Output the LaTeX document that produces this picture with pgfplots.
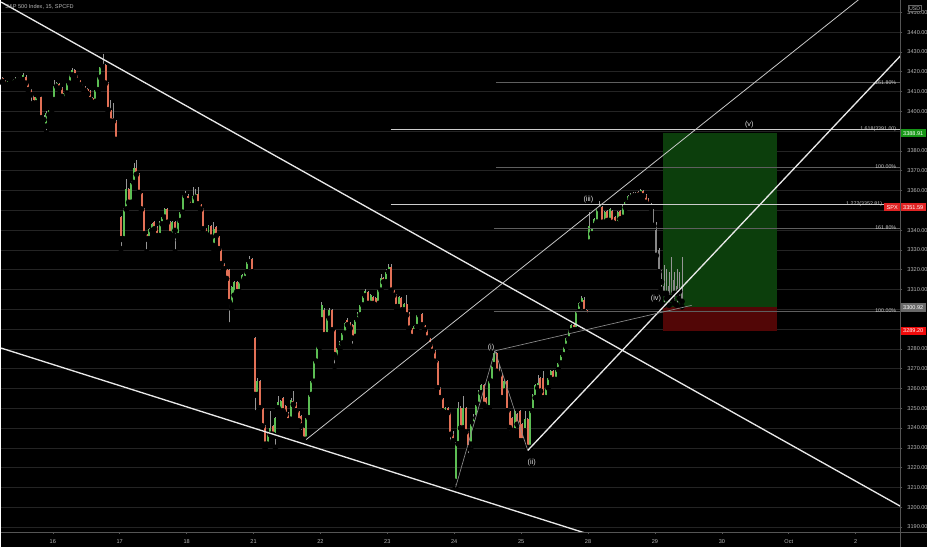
\documentclass[border=0pt]{standalone}
\usepackage{pgfplots}
\usepackage{pgfplotstable}
\pgfplotsset{compat=1.18}
\usepackage{fontspec}
\setmainfont{Liberation Sans}
\definecolor{upc}{RGB}{92,190,84}
\definecolor{dnc}{RGB}{226,112,86}
\definecolor{gyc}{RGB}{135,135,135}
\definecolor{wickc}{RGB}{150,150,150}
\definecolor{gridc}{RGB}{36,36,36}
\definecolor{axc}{RGB}{85,85,85}
\definecolor{lbl}{RGB}{185,185,185}
\definecolor{linew}{RGB}{232,232,232}
\definecolor{linec}{RGB}{200,200,200}
\definecolor{fibw}{RGB}{205,205,205}
\definecolor{fibg}{RGB}{95,95,95}
\definecolor{ewc}{RGB}{140,140,140}
\definecolor{boxg}{RGB}{12,62,12}
\definecolor{boxr}{RGB}{82,6,6}
\definecolor{tagg}{RGB}{22,150,22}
\definecolor{tagr}{RGB}{225,35,35}
\definecolor{tagr2}{RGB}{240,10,10}
\definecolor{tagy}{RGB}{105,105,105}
\definecolor{elc}{RGB}{225,225,225}

\pgfplotstableread{
t o h l c g
6 3416.7 3417.5 3414.5 3415.1 0
7 3415.1 3416.0 3412.8 3413.4 0
8 3413.4 3415.5 3412.5 3415.1 0
9 3414.6 3416.0 3413.8 3415.0 0
10 3414.2 3416.5 3413.5 3415.9 0
11 3415.1 3417.5 3414.5 3416.7 0
12 3415.9 3417.5 3415.0 3416.7 0
13 3416.7 3417.5 3415.5 3415.9 0
14 3416.0 3419.2 3415.5 3418.4 0
15 3417.6 3418.5 3414.0 3414.2 0
16 3414.2 3414.5 3410.5 3410.9 0
17 3410.9 3411.5 3403.3 3408.4 0
18 3407.5 3408.5 3403.5 3404.2 0
19 3404.2 3408.0 3403.8 3407.5 0
20 3407.5 3408.8 3406.5 3408.4 0
21 3407.5 3408.0 3396.0 3396.7 0
22 3396.7 3398.0 3395.0 3395.8 0
23 3392.5 3400.0 3389.1 3399.2 0
24 3398.3 3401.5 3397.5 3400.8 0
25 3400.8 3401.5 3400.3 3401.0 0
26 3405.9 3415.9 3405.0 3412.6 0
27 3412.6 3414.8 3411.8 3414.2 0
28 3413.9 3414.5 3411.2 3411.7 0
29 3411.7 3412.2 3407.0 3407.5 0
30 3405.9 3409.8 3405.3 3409.2 0
31 3409.2 3414.8 3408.8 3414.2 0
32 3414.2 3418.9 3413.8 3418.4 0
33 3418.4 3421.8 3418.0 3420.9 0
34 3420.9 3421.3 3417.5 3417.9 0
35 3417.9 3418.3 3415.2 3415.6 0
36 3415.6 3416.0 3413.0 3413.4 0
37 3413.4 3413.8 3411.3 3411.7 0
38 3412.2 3412.8 3410.0 3410.5 0
39 3411.2 3411.8 3408.5 3408.9 0
40 3410.5 3411.0 3405.5 3405.9 0
41 3406.7 3407.2 3402.5 3404.5 0
42 3405.0 3411.5 3404.6 3410.9 0
43 3410.9 3417.8 3410.5 3417.2 0
44 3417.2 3423.0 3416.8 3422.6 0
45 3422.6 3428.9 3422.0 3423.9 0
46 3423.4 3424.0 3413.8 3414.2 0
47 3414.2 3414.8 3400.3 3400.8 0
48 3400.8 3405.9 3394.6 3395.0 0
49 3396.7 3404.2 3394.8 3395.0 0
50 3395.0 3395.5 3385.3 3385.8 0
51 3385.8 3386.2 3385.0 3385.5 0
52 3346.5 3347.3 3330.6 3335.6 0
53 3335.6 3351.2 3335.0 3350.6 0
54 3350.6 3365.7 3350.0 3360.7 0
55 3360.7 3361.3 3353.5 3354.0 0
56 3354.0 3364.6 3353.5 3364.0 0
57 3364.0 3374.1 3363.5 3371.6 0
58 3371.6 3375.2 3367.7 3368.2 0
59 3368.2 3368.7 3358.5 3359.0 0
60 3359.0 3359.5 3350.0 3350.6 0
61 3350.6 3351.0 3337.6 3338.1 0
62 3338.1 3338.6 3328.9 3335.6 0
63 3335.6 3341.2 3335.0 3340.6 0
64 3339.8 3343.7 3339.3 3343.1 0
65 3343.9 3344.4 3340.0 3340.6 0
66 3341.5 3342.0 3336.7 3337.2 0
67 3337.2 3344.5 3336.8 3343.9 0
68 3343.1 3347.0 3342.6 3346.5 0
69 3346.5 3351.2 3346.0 3350.6 0
70 3350.6 3351.1 3343.4 3343.9 0
71 3343.9 3344.4 3337.6 3338.1 0
72 3337.2 3344.5 3334.7 3343.9 0
73 3343.9 3344.4 3328.9 3339.8 0
74 3337.2 3345.3 3336.8 3344.8 0
75 3344.8 3349.6 3344.3 3349.0 0
76 3349.0 3357.8 3348.5 3357.3 0
77 3357.3 3359.8 3356.8 3358.2 0
78 3357.3 3358.0 3354.3 3354.8 0
79 3354.8 3355.3 3351.8 3352.3 0
80 3352.3 3362.0 3351.8 3357.3 0
81 3356.5 3360.7 3356.0 3358.2 0
82 3358.2 3362.0 3352.7 3353.2 0
83 3353.2 3353.7 3350.1 3350.6 0
84 3350.6 3351.1 3340.1 3340.6 0
85 3340.6 3341.1 3334.7 3338.1 0
86 3337.2 3342.8 3336.7 3342.3 0
87 3342.3 3342.8 3335.9 3336.4 0
88 3332.2 3344.3 3330.6 3340.6 0
89 3341.5 3342.0 3336.7 3337.2 0
90 3337.2 3337.7 3330.1 3330.6 0
91 3330.6 3331.1 3322.5 3323.0 0
92 3323.0 3323.5 3320.0 3320.5 0
93 3320.5 3321.0 3315.0 3315.5 0
94 3319.7 3320.2 3292.1 3303.8 0
95 3302.1 3311.8 3300.4 3311.3 0
96 3307.1 3314.3 3306.6 3313.8 0
97 3313.8 3314.3 3308.3 3308.8 0
98 3308.8 3314.3 3308.3 3313.8 0
99 3313.8 3317.7 3313.3 3317.2 0
100 3315.5 3319.4 3315.0 3318.9 0
101 3318.9 3324.4 3318.4 3323.9 0
102 3323.9 3326.9 3323.4 3324.7 0
103 3325.5 3326.0 3318.4 3318.9 0
104 3285.4 3286.0 3247.7 3256.9 0
105 3256.9 3265.3 3256.4 3263.6 0
106 3263.6 3264.1 3249.7 3250.2 0
107 3250.2 3250.7 3240.5 3241.0 0
108 3241.0 3241.5 3229.3 3231.8 0
109 3231.8 3237.3 3231.3 3236.8 0
110 3236.8 3248.6 3236.3 3240.2 0
111 3241.0 3241.5 3236.3 3236.8 0
112 3236.0 3245.7 3230.2 3245.2 0
113 3250.2 3256.1 3249.7 3253.2 0
114 3248.6 3254.1 3248.1 3253.6 0
115 3255.3 3255.8 3248.1 3248.6 0
116 3251.1 3251.6 3246.4 3246.9 0
117 3247.7 3248.2 3243.1 3243.6 0
118 3244.4 3255.0 3243.9 3254.4 0
119 3253.6 3258.6 3251.4 3251.9 0
120 3252.8 3253.3 3248.1 3248.6 0
121 3248.6 3249.1 3243.1 3243.6 0
122 3246.1 3246.6 3237.7 3241.0 0
123 3240.2 3240.7 3234.3 3234.3 0
124 3234.3 3245.7 3233.5 3245.2 0
125 3245.2 3257.4 3244.7 3256.9 0
126 3256.9 3264.1 3256.4 3263.6 0
127 3263.6 3274.2 3263.1 3273.7 0
128 3273.7 3281.7 3273.2 3281.2 0
129 3281.2 3282.0 3280.3 3281.6 0
130 3294.6 3303.8 3293.7 3302.1 0
131 3299.6 3300.5 3286.6 3287.1 0
132 3287.1 3295.9 3286.6 3295.4 0
133 3295.4 3300.5 3295.0 3299.6 0
134 3299.6 3300.0 3289.1 3289.6 0
135 3289.6 3290.1 3271.2 3277.0 0
136 3275.3 3280.9 3274.8 3280.4 0
137 3280.4 3284.2 3279.9 3283.7 0
138 3282.9 3288.4 3282.4 3287.9 0
139 3287.9 3293.4 3287.4 3292.9 0
140 3294.6 3295.4 3291.6 3292.1 0
141 3292.9 3293.4 3289.9 3290.4 0
142 3292.1 3292.6 3281.2 3285.4 0
143 3286.2 3295.1 3285.7 3294.6 0
144 3294.6 3298.4 3294.1 3297.9 0
145 3297.1 3302.6 3296.6 3302.1 0
146 3302.1 3307.3 3301.6 3306.8 0
147 3306.8 3310.1 3306.3 3309.1 0
148 3308.8 3309.3 3302.4 3302.9 0
149 3302.9 3307.6 3302.4 3307.1 0
150 3306.3 3306.8 3302.4 3302.9 0
151 3305.5 3306.0 3301.6 3302.1 0
152 3302.9 3310.1 3302.4 3309.6 0
153 3309.6 3318.0 3309.1 3315.8 0
154 3315.8 3316.3 3313.3 3313.8 0
155 3313.8 3320.5 3313.3 3318.9 0
156 3318.9 3323.0 3318.4 3321.4 0
157 3321.4 3323.0 3309.1 3309.6 0
158 3309.6 3310.1 3306.6 3307.1 0
159 3307.1 3307.6 3300.8 3301.3 0
160 3301.3 3306.8 3300.8 3306.3 0
161 3305.5 3306.0 3299.1 3299.6 0
162 3299.6 3303.4 3299.1 3302.9 0
163 3302.9 3307.1 3296.6 3297.1 0
164 3297.9 3298.4 3289.9 3290.4 0
165 3290.4 3290.9 3285.7 3286.2 0
166 3288.7 3292.2 3286.0 3291.7 0
167 3291.2 3297.6 3290.7 3297.1 0
168 3297.1 3298.8 3296.6 3297.9 0
169 3297.6 3298.1 3291.6 3292.1 0
170 3292.1 3292.6 3289.1 3289.6 0
171 3289.6 3290.1 3284.9 3285.4 0
172 3285.4 3285.9 3281.5 3282.0 0
173 3282.0 3282.5 3278.2 3278.7 0
174 3278.7 3279.2 3273.2 3273.7 0
175 3273.7 3274.2 3259.8 3260.3 0
176 3260.3 3260.8 3254.8 3255.3 0
177 3255.3 3255.8 3248.1 3248.6 0
178 3247.7 3250.7 3245.2 3250.2 0
179 3250.2 3250.7 3247.2 3247.7 0
180 3247.7 3248.2 3231.8 3236.8 0
181 3236.8 3238.5 3231.3 3233.5 0
182 3213.0 3233.0 3210.0 3232.0 0
183 3232.0 3253.0 3231.5 3250.0 0
184 3250.0 3251.0 3239.0 3240.0 0
185 3240.0 3256.0 3239.5 3250.0 0
186 3250.0 3250.5 3237.5 3238.0 0
187 3238.0 3238.5 3226.0 3230.0 0
188 3231.8 3242.4 3229.0 3241.9 0
189 3241.9 3247.0 3241.0 3245.2 0
190 3245.2 3252.4 3244.7 3251.9 0
191 3251.9 3259.1 3251.4 3258.6 0
192 3257.8 3262.5 3257.3 3262.0 0
193 3262.0 3262.5 3251.4 3251.9 0
194 3255.3 3255.8 3249.7 3250.2 0
195 3250.2 3264.1 3249.7 3263.6 0
196 3263.6 3272.5 3263.1 3272.0 0
197 3272.0 3279.0 3271.5 3277.9 0
198 3277.9 3278.4 3268.1 3268.6 0
199 3269.5 3272.0 3266.5 3267.0 0
200 3267.0 3267.5 3254.8 3255.3 0
201 3258.6 3264.1 3258.1 3263.6 0
202 3263.6 3264.1 3248.1 3248.6 0
203 3248.6 3249.1 3237.0 3240.2 0
204 3245.2 3245.7 3238.0 3238.5 0
205 3238.5 3249.1 3238.0 3248.6 0
206 3246.9 3247.4 3241.4 3241.9 0
207 3248.6 3249.1 3233.0 3233.5 0
208 3241.9 3242.4 3233.0 3233.5 0
209 3238.5 3248.6 3238.0 3244.4 0
210 3244.4 3244.9 3228.5 3230.2 0
211 3230.2 3249.1 3229.7 3248.6 0
212 3248.6 3257.4 3248.1 3256.9 0
213 3255.3 3262.5 3254.8 3262.0 0
214 3260.3 3267.0 3259.8 3262.8 0
215 3265.3 3265.8 3258.1 3258.6 0
216 3265.3 3268.6 3254.8 3255.3 0
217 3255.3 3260.8 3254.4 3260.3 0
218 3260.3 3265.8 3259.8 3265.3 0
219 3265.3 3269.1 3264.8 3268.6 0
220 3268.6 3269.1 3264.0 3264.5 0
221 3264.5 3270.0 3264.0 3269.5 0
222 3269.5 3273.3 3269.0 3272.8 0
223 3272.8 3277.5 3272.3 3277.0 0
224 3277.0 3281.7 3276.5 3281.2 0
225 3281.2 3285.9 3280.7 3285.4 0
226 3285.0 3289.6 3284.5 3289.1 0
227 3289.1 3292.6 3288.6 3292.1 0
228 3292.1 3292.6 3289.1 3289.6 0
229 3289.6 3299.3 3289.1 3298.8 0
230 3298.8 3303.5 3298.3 3303.0 0
231 3302.4 3306.8 3301.9 3305.5 0
232 3304.6 3306.0 3298.3 3298.8 0
233 3299.6 3300.1 3296.6 3297.1 0
234 3333.9 3349.0 3333.0 3342.3 0
235 3338.1 3341.0 3336.0 3340.6 0
236 3342.3 3346.0 3341.5 3345.6 0
237 3344.0 3351.0 3343.5 3350.6 0
238 3350.6 3354.8 3350.0 3352.3 0
239 3351.5 3352.0 3343.4 3343.9 0
240 3343.9 3349.5 3343.4 3349.0 0
241 3349.8 3350.3 3344.3 3344.8 0
242 3344.8 3351.1 3344.3 3350.6 0
243 3349.8 3350.3 3343.4 3343.9 0
244 3346.4 3346.9 3342.6 3343.1 0
245 3343.1 3349.5 3342.6 3349.0 0
246 3349.8 3350.3 3345.1 3345.6 0
247 3346.4 3352.8 3345.9 3352.3 0
248 3351.5 3354.5 3351.0 3354.0 0
249 3354.0 3357.8 3353.5 3357.3 0
250 3356.0 3358.7 3355.5 3358.2 0
251 3358.7 3359.2 3356.8 3357.3 0
252 3357.3 3359.5 3356.8 3359.0 0
253 3359.3 3359.8 3357.1 3357.6 0
254 3358.2 3361.0 3357.7 3360.2 0
255 3359.8 3360.3 3356.8 3357.3 0
256 3357.6 3358.1 3353.5 3354.0 0
257 3355.6 3356.1 3351.8 3352.3 0
258 3353.1 3353.6 3351.0 3351.5 0
259 3350.6 3351.5 3341.8 3342.3 1
260 3340.0 3343.9 3326.7 3327.2 1
261 3330.0 3331.0 3318.4 3318.9 1
262 3318.9 3320.0 3310.0 3313.8 1
263 3312.0 3322.2 3302.1 3308.0 1
264 3308.0 3320.5 3305.5 3312.0 1
265 3312.0 3319.0 3302.1 3306.0 1
266 3306.0 3326.4 3305.0 3315.0 1
267 3315.0 3319.0 3303.0 3308.0 1
268 3308.0 3320.5 3302.1 3312.0 1
269 3312.0 3319.0 3305.5 3309.0 1
270 3309.0 3326.4 3301.3 3304.0 1
}\candles

\begin{document}
\begin{tikzpicture}[x=1pt,y=1pt]
\fill[black] (0,0) rectangle (699,412.5);
\begin{axis}[
  at={(0pt,11.25pt)}, anchor=south west,
  scale only axis, width=678.75pt, height=401.25pt,
  xmin=-0.772, xmax=12.669, ymin=3187.5, ymax=3456.06,
  axis x line*=bottom, axis y line*=right,
  axis line style={draw=axc, line width=0.6pt},
  xtick={0,1,2,3,4,5,6,7,8,9,10,11,12},
  xticklabels={16,17,18,21,22,23,24,25,28,29,30,Oct,2},
  ytick={3190,3200,...,3450},
  yticklabels={3190.00,3200.00,3210.00,3220.00,3230.00,3240.00,3250.00,3260.00,3270.00,3280.00,{},{},3310.00,3320.00,3330.00,3340.00,{},3360.00,3370.00,3380.00,{},3400.00,3410.00,3420.00,3430.00,3440.00,3450.00},
  scaled y ticks=false,
  ymajorgrids, grid style={draw=gridc, line width=0.5pt},
  tick align=outside, major tick length=1.5pt,
  tick style={draw=axc, line width=0.4pt},
  ticklabel style={font=\fontsize{4.2}{5}\selectfont, text=lbl},
  yticklabel style={anchor=west, xshift=0.3pt},
  xticklabel style={yshift=-1pt},
  clip mode=individual,
]
% position boxes
\addplot[draw=none, fill=boxg] coordinates {(9.119,3300.92) (10.827,3300.92) (10.827,3388.91) (9.119,3388.91)} -- cycle;
\addplot[draw=none, fill=boxr] coordinates {(9.119,3289.20) (10.827,3289.20) (10.827,3300.92) (9.119,3300.92)} -- cycle;
% wicks
\addplot[only marks, mark=none, error bars/.cd, y dir=plus, y explicit, error mark=none,
  error bar style={line width=0.45pt, draw=wickc}]
  table[x expr={(\thisrow{t}+0.5)/26-1}, y=l, y error plus expr={\thisrow{h}-\thisrow{l}}]{\candles};
% up bodies
\addplot[only marks, mark=none, restrict expr to domain={\thisrow{c}-\thisrow{o}-1000*\thisrow{g}}{0:1000},
  error bars/.cd, y dir=plus, y explicit, error mark=none,
  error bar style={line width=1.5pt, draw=upc}]
  table[x expr={(\thisrow{t}+0.5)/26-1}, y expr={min(\thisrow{o},\thisrow{c})}, y error plus expr={max(abs(\thisrow{c}-\thisrow{o}),0.4)}]{\candles};
% down bodies
\addplot[only marks, mark=none, restrict expr to domain={\thisrow{c}-\thisrow{o}+1000*\thisrow{g}}{-1000:-0.001},
  error bars/.cd, y dir=plus, y explicit, error mark=none,
  error bar style={line width=1.5pt, draw=dnc}]
  table[x expr={(\thisrow{t}+0.5)/26-1}, y expr={min(\thisrow{o},\thisrow{c})}, y error plus expr={max(abs(\thisrow{c}-\thisrow{o}),0.4)}]{\candles};
% gray bodies
\addplot[only marks, mark=none, restrict expr to domain={\thisrow{g}}{0.5:2},
  error bars/.cd, y dir=plus, y explicit, error mark=none,
  error bar style={line width=1.2pt, draw=gyc}]
  table[x expr={(\thisrow{t}+0.5)/26-1}, y expr={min(\thisrow{o},\thisrow{c})}, y error plus expr={max(abs(\thisrow{c}-\thisrow{o}),0.4)}]{\candles};
% fib levels
\addplot[fibg, line width=0.5pt] coordinates {(6.624,3414.5) (12.669,3414.5)};
\addplot[fibg, line width=0.5pt] coordinates {(6.624,3371.7) (12.669,3371.7)};
\addplot[fibg, line width=0.5pt] coordinates {(6.594,3341.1) (12.669,3341.1)};
\addplot[fibg, line width=0.5pt] coordinates {(6.594,3299.0) (12.669,3299.0)};
\addplot[fibw, line width=0.6pt] coordinates {(5.05,3391.0) (12.669,3391.0)};
\addplot[fibw, line width=0.6pt] coordinates {(5.05,3352.8) (12.669,3352.8)};
% trend lines
\addplot[linew, line width=1.0pt] coordinates {(-0.772,3455.2) (12.669,3200.5)};
\addplot[linew, line width=1.0pt] coordinates {(-0.772,3280.4) (8.0,3186.5)};
\addplot[linec, line width=0.6pt] coordinates {(3.787,3234.2) (12.3,3463.3)};
\addplot[linew, line width=1.0pt] coordinates {(7.099,3228.7) (12.669,3428.0)};
% wave lines
\addplot[ewc, line width=0.5pt] coordinates {(6.02,3210.0) (6.609,3279.0) (7.099,3228.7)};
\addplot[ewc, line width=0.5pt] coordinates {(6.609,3279.0) (9.55,3302.0)};
% wave labels
\tikzset{elab/.style={font=\fontsize{5.5}{6}\selectfont, text=elc, inner sep=0pt}}
\node[elab] at (axis cs:6.55,3280.4) {(i)};
\node[elab] at (axis cs:7.159,3222.6) {(ii)};
\node[elab] at (axis cs:8.005,3355.6) {(iii)};
\node[elab] at (axis cs:9.015,3305.4) {(iv)};
\node[elab] at (axis cs:10.41,3393.2) {(v)};
% fib labels
\tikzset{flab/.style={font=\fontsize{4.0}{5}\selectfont, text=fibw, inner sep=0pt, anchor=east}}
\node[flab] at (axis cs:12.61,3414.6) {161.80\%};
\node[flab] at (axis cs:12.61,3391.2) {1.618(3391.00)};
\node[flab] at (axis cs:12.61,3371.8) {100.00\%};
\node[flab] at (axis cs:12.40,3353.0) {1.272(3352.81)};
\node[flab] at (axis cs:12.61,3341.2) {161.80\%};
\node[flab] at (axis cs:12.61,3299.1) {100.00\%};
\coordinate (tg1) at (axis cs:12.669,3388.91);
\coordinate (tg2) at (axis cs:12.669,3351.59);
\coordinate (tg3) at (axis cs:12.669,3300.92);
\coordinate (tg4) at (axis cs:12.669,3289.20);
\end{axis}
\draw[axc, line width=0.6pt] (0,11.25) -- (699,11.25);
\draw[axc, line width=0.6pt] (678.75,0) -- (678.75,412.5);
\tikzset{tag/.style={font=\fontsize{4.2}{5}\selectfont, text=white, inner sep=0pt, minimum height=6.2pt}}
\node[tag, fill=tagg, anchor=west, minimum width=19pt] at (tg1) {3388.91};
\node[tag, fill=tagr, anchor=east, minimum width=12pt] at (tg2) {SPX};
\node[tag, fill=tagr, anchor=west, minimum width=19pt] at (tg2) {3351.59};
\node[tag, fill=tagy, anchor=west, minimum width=19pt] at (tg3) {3300.92};
\node[tag, fill=tagr2, anchor=west, minimum width=19pt] at (tg4) {3289.20};
\node[draw={rgb,255:red,100;green,100;blue,100}, fill=black, line width=0.4pt, inner sep=0.8pt, font=\fontsize{4.0}{5}\selectfont, text=lbl] at (689.5,406.5) {USD};
\node[anchor=west, font=\fontsize{4.2}{5}\selectfont, text=lbl, inner sep=0pt] at (3,408) {S\&P 500 Index, 15, SPCFD};
\end{tikzpicture}
\end{document}
